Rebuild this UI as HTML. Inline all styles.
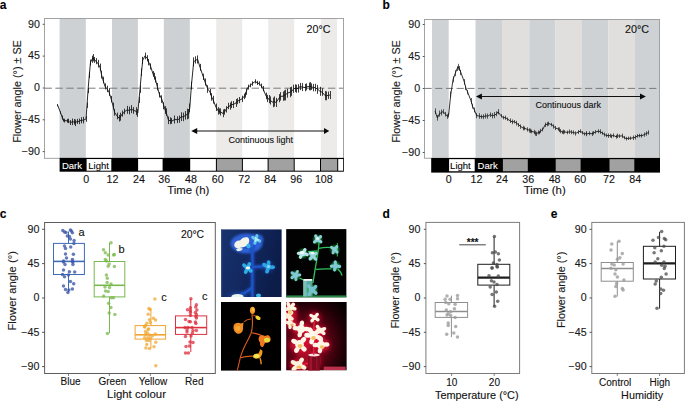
<!DOCTYPE html>
<html><head><meta charset="utf-8"><style>
html,body{margin:0;padding:0;background:#fff;}
body{width:685px;height:401px;overflow:hidden;font-family:"Liberation Sans",sans-serif;}
svg{display:block;}
text{stroke:#111;stroke-width:0.22px;stroke-opacity:0.55;}
text[fill="#fff"]{stroke:#fff;}
</style></head><body>
<svg width="685" height="401" viewBox="0 0 685 401">
<rect width="685" height="401" fill="#fff"/>
<defs>
<linearGradient id="bbg" x1="0" y1="0" x2="1" y2="0.3"><stop offset="0" stop-color="#18336f"/><stop offset="0.5" stop-color="#12285f"/><stop offset="1" stop-color="#0c1d4a"/></linearGradient>
<radialGradient id="rbg" cx="0.35" cy="0.6" r="0.8"><stop offset="0" stop-color="#80061c"/><stop offset="0.45" stop-color="#520312"/><stop offset="0.75" stop-color="#200006"/><stop offset="1" stop-color="#040001"/></radialGradient>
<filter id="g3" x="-50%" y="-50%" width="200%" height="200%"><feGaussianBlur stdDeviation="2.6"/></filter>
<filter id="g2" x="-50%" y="-50%" width="200%" height="200%"><feGaussianBlur stdDeviation="1.3"/></filter>
<filter id="g1" x="-50%" y="-50%" width="200%" height="200%"><feGaussianBlur stdDeviation="0.6"/></filter>
<filter id="g05" x="-50%" y="-50%" width="200%" height="200%"><feGaussianBlur stdDeviation="0.35"/></filter>
<clipPath id="cpb"><rect x="221" y="229.2" width="60.8" height="67.8"/></clipPath>
<clipPath id="cpg"><rect x="286.1" y="229.1" width="60.5" height="68.4"/></clipPath>
<clipPath id="cpo"><rect x="221" y="302" width="60.2" height="68.8"/></clipPath>
<clipPath id="cpr"><rect x="286.1" y="302" width="60.7" height="68.5"/></clipPath>
</defs>
<g clip-path="url(#cpb)">
<rect x="221" y="229.2" width="60.8" height="67.8" fill="url(#bbg)"/>
<rect x="221" y="229.2" width="1.2" height="67.8" fill="#3a5088" opacity="0.8"/>
<g filter="url(#g2)"><ellipse cx="246.5" cy="243.5" rx="16" ry="10" fill="#2f64dc" opacity="0.95"/><ellipse cx="257" cy="239.5" rx="6.5" ry="5.5" fill="#2f64dc" opacity="0.9"/></g><g filter="url(#g3)"><ellipse cx="248" cy="268" rx="5" ry="5" fill="#2a56c4" opacity="0.6"/><ellipse cx="268" cy="267" rx="5" ry="5" fill="#2a56c4" opacity="0.6"/><ellipse cx="238" cy="297" rx="9" ry="4" fill="#2a56c4" opacity="0.8"/></g>
<g stroke="#1f48b0" stroke-width="4.5" fill="none" filter="url(#g2)" opacity="0.8"><path d="M252.4,248 C252.6,258 252.3,275 252.4,298"/><path d="M252.4,267 C257,266.5 262,266.8 266,266"/><path d="M252.4,287 C249,291 245,293 240,295"/></g>
<g stroke="#1c54c8" stroke-width="2.2" fill="none" filter="url(#g05)"><path d="M252.4,248 C252.6,258 252.3,275 252.4,298"/><path d="M252.4,267 C257,266.5 262,266.8 266,266"/><path d="M252.4,287 C249,291 245,293 240,295"/><path d="M252.4,250 C250,248 247,247.5 244,248 M252.4,250 C254,246 256,243 257,241"/></g>
<g filter="url(#g1)">
<path d="M234.2,245 C234.5,241.5 237.5,240 240,240.5 C242,237.5 245.5,236.5 248,237.5 C249.8,239 249.5,242.5 248,244.5 C246.5,246.8 243,247 240.5,247.8 C238,248.5 234.2,248 234.2,245Z" fill="#f4f4e8"/>
<ellipse cx="248.5" cy="246" rx="2" ry="2.5" fill="#38b4e8"/>
<path d="M236,249.5 C237.5,248 240.5,247.6 242.7,248.6 C242.5,250.5 240,251.4 237.5,251.3 Z" fill="#e8f0e4"/>
<g fill="#62c8ec" fill-opacity="1.0"><ellipse cx="259.05" cy="240.77" rx="2.20" ry="1.65" transform="rotate(23 259.05 240.77)"/><ellipse cx="255.05" cy="242.66" rx="2.20" ry="1.65" transform="rotate(107 255.05 242.66)"/><ellipse cx="253.26" cy="237.66" rx="2.20" ry="1.65" transform="rotate(214 253.26 237.66)"/><ellipse cx="256.80" cy="236.30" rx="2.20" ry="1.65" transform="rotate(284 256.80 236.30)"/><circle cx="256" cy="239.5" r="2.40"/></g>
<g fill="#bfe8f4" fill-opacity="1.0"><ellipse cx="258.11" cy="239.86" rx="1.20" ry="0.90" transform="rotate(13 258.11 239.86)"/><ellipse cx="255.51" cy="240.82" rx="1.20" ry="0.90" transform="rotate(127 255.51 240.82)"/><ellipse cx="255.58" cy="238.13" rx="1.20" ry="0.90" transform="rotate(236 255.58 238.13)"/><circle cx="256.5" cy="239.5" r="1.20"/></g>
<g fill="#2fb0e6" fill-opacity="1.0"><ellipse cx="250.43" cy="270.49" rx="2.50" ry="1.88" transform="rotate(40 250.43 270.49)"/><ellipse cx="245.92" cy="271.51" rx="2.50" ry="1.88" transform="rotate(114 245.92 271.51)"/><ellipse cx="244.46" cy="265.64" rx="2.50" ry="1.88" transform="rotate(218 244.46 265.64)"/><ellipse cx="249.15" cy="264.52" rx="2.50" ry="1.88" transform="rotate(295 249.15 264.52)"/><circle cx="247.5" cy="268" r="2.80"/></g>
<ellipse cx="248" cy="268" rx="2.2" ry="1.4" fill="#f4f8f0"/>
<g fill="#2ca6e6" fill-opacity="1.0"><ellipse cx="272.42" cy="267.22" rx="2.60" ry="1.95" transform="rotate(3 272.42 267.22)"/><ellipse cx="267.26" cy="270.99" rx="2.60" ry="1.95" transform="rotate(105 267.26 270.99)"/><ellipse cx="264.67" cy="265.04" rx="2.60" ry="1.95" transform="rotate(208 264.67 265.04)"/><ellipse cx="268.61" cy="262.89" rx="2.60" ry="1.95" transform="rotate(274 268.61 262.89)"/><circle cx="268.3" cy="267" r="3.00"/></g>
<ellipse cx="268.5" cy="266.5" rx="1.6" ry="1.6" fill="#8fd6f2"/>
<ellipse cx="237.5" cy="296.5" rx="6" ry="2.4" fill="#eef6f0"/>
<ellipse cx="258.5" cy="295.5" rx="2.5" ry="2" fill="#3ab8ec"/>
</g></g>
<g clip-path="url(#cpg)">
<rect x="286.1" y="229.1" width="60.5" height="68.4" fill="#010201"/>
<g stroke="#2ec25e" stroke-width="1.3" fill="none" filter="url(#g05)"><path d="M313,283 C314.5,272 316.5,262 318,252 C318.8,247 319.2,244 319,240"/><path d="M318.8,248.3 C323,247.5 327,247.3 331,247.6"/><path d="M315.6,269.4 C321,269 326,269 331.5,268.8"/><path d="M317.6,251 C314,251.2 311,251.4 308,251.6"/><path d="M303.5,279.9 C302,279 300.5,278.5 299.5,278"/><path d="M337.3,243 L337.3,256.5" stroke-width="1"/><path d="M338,269 C340,271 341.5,273 342,275.5" stroke-width="1.4"/></g>
<rect x="286.1" y="295.6" width="60.5" height="2" fill="#1a7a38" filter="url(#g05)"/>
<rect x="286.1" y="295.6" width="60.5" height="0.8" fill="#5ac878" opacity="0.5"/>
<rect x="303.2" y="279.5" width="9.3" height="17" fill="#5aa8a0"/>
<rect x="303.2" y="279.5" width="3.5" height="17" fill="#8cd0c8" opacity="0.6"/>
<rect x="303.5" y="279" width="8.7" height="1.8" fill="#f4fbf6" filter="url(#g05)"/>
<g filter="url(#g2)" opacity="0.9">
<circle cx="317.6" cy="239.5" r="4" fill="#25b04e"/>
<circle cx="303" cy="253.5" r="4.3" fill="#25b04e"/>
<circle cx="313" cy="256" r="4" fill="#25b04e"/>
<circle cx="334.8" cy="249.5" r="4" fill="#25b04e"/>
<circle cx="335.5" cy="266" r="4.3" fill="#25b04e"/>
<circle cx="295.5" cy="275.5" r="4.3" fill="#25b04e"/>
<circle cx="312" cy="290" r="4.8" fill="#25b04e"/>
</g><g filter="url(#g05)">
<g fill="#8cd0d8" fill-opacity="1.0"><ellipse cx="320.48" cy="241.52" rx="2.10" ry="1.58" transform="rotate(36 320.48 241.52)"/><ellipse cx="314.85" cy="241.69" rx="2.10" ry="1.58" transform="rotate(140 314.85 241.69)"/><ellipse cx="315.88" cy="236.27" rx="2.10" ry="1.58" transform="rotate(241 315.88 236.27)"/><ellipse cx="320.28" cy="237.03" rx="2.10" ry="1.58" transform="rotate(318 320.28 237.03)"/><circle cx="317.6" cy="239.4" r="2.60"/></g>
<g fill="#b8e4ec" fill-opacity="1.0"><ellipse cx="306.54" cy="254.41" rx="2.30" ry="1.72" transform="rotate(14 306.54 254.41)"/><ellipse cx="300.67" cy="256.71" rx="2.30" ry="1.72" transform="rotate(124 300.67 256.71)"/><ellipse cx="298.95" cy="253.39" rx="2.30" ry="1.72" transform="rotate(182 298.95 253.39)"/><ellipse cx="304.70" cy="250.15" rx="2.30" ry="1.72" transform="rotate(300 304.70 250.15)"/><circle cx="302.8" cy="253.5" r="2.80"/></g>
<g fill="#9ad6e0" fill-opacity="1.0"><ellipse cx="315.29" cy="258.74" rx="2.20" ry="1.65" transform="rotate(50 315.29 258.74)"/><ellipse cx="310.47" cy="258.52" rx="2.20" ry="1.65" transform="rotate(135 310.47 258.52)"/><ellipse cx="310.44" cy="253.51" rx="2.20" ry="1.65" transform="rotate(224 310.44 253.51)"/><ellipse cx="315.77" cy="253.74" rx="2.20" ry="1.65" transform="rotate(321 315.77 253.74)"/><circle cx="313" cy="256" r="2.60"/></g>
<g fill="#88ccd8" fill-opacity="1.0"><ellipse cx="336.82" cy="251.84" rx="2.00" ry="1.50" transform="rotate(45 336.82 251.84)"/><ellipse cx="333.19" cy="252.53" rx="2.00" ry="1.50" transform="rotate(113 333.19 252.53)"/><ellipse cx="331.87" cy="247.51" rx="2.00" ry="1.50" transform="rotate(217 331.87 247.51)"/><ellipse cx="336.58" cy="246.94" rx="2.00" ry="1.50" transform="rotate(309 336.58 246.94)"/><circle cx="334.5" cy="249.5" r="2.40"/></g>
<g fill="#80c8d4" fill-opacity="1.0"><ellipse cx="339.05" cy="266.44" rx="2.20" ry="1.65" transform="rotate(7 339.05 266.44)"/><ellipse cx="334.69" cy="269.48" rx="2.20" ry="1.65" transform="rotate(103 334.69 269.48)"/><ellipse cx="331.93" cy="266.22" rx="2.20" ry="1.65" transform="rotate(176 331.93 266.22)"/><ellipse cx="335.27" cy="262.43" rx="2.20" ry="1.65" transform="rotate(266 335.27 262.43)"/><circle cx="335.5" cy="266" r="2.60"/></g>
<g fill="#84c8d6" fill-opacity="1.0"><ellipse cx="299.34" cy="275.01" rx="2.00" ry="1.50" transform="rotate(-4 299.34 275.01)"/><ellipse cx="295.91" cy="279.13" rx="2.00" ry="1.50" transform="rotate(84 295.91 279.13)"/><ellipse cx="292.26" cy="277.38" rx="2.00" ry="1.50" transform="rotate(147 292.26 277.38)"/><ellipse cx="292.36" cy="273.07" rx="2.00" ry="1.50" transform="rotate(215 292.36 273.07)"/><ellipse cx="297.23" cy="271.86" rx="2.00" ry="1.50" transform="rotate(297 297.23 271.86)"/><circle cx="295.5" cy="275.3" r="2.80"/></g>
<g fill="#78c0d0" fill-opacity="1.0"><ellipse cx="315.44" cy="292.74" rx="2.40" ry="1.80" transform="rotate(38 315.44 292.74)"/><ellipse cx="309.59" cy="293.68" rx="2.40" ry="1.80" transform="rotate(123 309.59 293.68)"/><ellipse cx="309.19" cy="286.62" rx="2.40" ry="1.80" transform="rotate(230 309.19 286.62)"/><ellipse cx="315.22" cy="287.00" rx="2.40" ry="1.80" transform="rotate(317 315.22 287.00)"/><circle cx="312" cy="290" r="3.20"/></g>
<ellipse cx="302" cy="252.5" rx="2.6" ry="1.6" fill="#f0faf8"/>
<ellipse cx="312.5" cy="253" rx="2.4" ry="1.3" fill="#eaf8f6"/>
<ellipse cx="317.5" cy="238.5" rx="1.6" ry="1.6" fill="#e6f6f4"/>
</g></g>
<g clip-path="url(#cpo)">
<rect x="221" y="302" width="60.2" height="68.8" fill="#010000"/>
<g stroke="#dc5a1c" stroke-width="1.1" fill="none" filter="url(#g05)"><path d="M237.2,371 C238.5,365 239.5,361 240.3,357.7 C243,347 248,341 251,333.5 C253,327 252.8,321 252,314.5"/><path d="M250.8,319 C248,319.2 246,319.8 244,322"/><path d="M251.8,315 C253.5,314.8 255,315.5 256.5,316.5"/><path d="M251.3,332.8 C256,333.5 261,334.5 264,337"/><path d="M240.3,357.8 C244,356.5 249,356 254,356.2"/><path d="M260,358 C260.8,360 261.2,362 261.2,364.3" stroke="#e89020" stroke-width="1.4"/></g>
<g filter="url(#g1)">
<ellipse cx="252.5" cy="310.3" rx="2.6" ry="3.6" fill="#f49a22"/>
<ellipse cx="253" cy="309.5" rx="1.3" ry="2" fill="#fcc040"/>
<ellipse cx="258" cy="317.8" rx="2.8" ry="1.9" transform="rotate(30 258 317.8)" fill="#f0d030"/>
<path d="M233.5,326 C234.5,323 238,322 241,323.5 L243.5,322.5 L243,327 C243.5,330 242,333.5 239,333.8 C236,334 233,331 233.5,326Z" fill="#f08c22"/>
<ellipse cx="237.8" cy="328.5" rx="2.6" ry="2.4" fill="#f8a830"/>
<path d="M259,337 C260,335 263,334.8 265,336 L268,335 C270.5,336.5 271.5,339.5 270,341.5 C268,343 266,342.5 265,343 L263,347 C261,347.5 259.5,345 260,342.5 C258.5,341 258.3,339 259,337Z" fill="#f07a20"/>
<ellipse cx="267" cy="340" rx="3" ry="2.3" fill="#e4e040"/>
<path d="M253,356.5 C253.5,354 256,353 258.5,353.5 L260.5,349 L262.5,351 C262.5,353 262,355 261,356.5 C260,358.5 257,359 255,358.5 C253.5,358 253,357.5 253,356.5Z" fill="#f09a22"/>
<ellipse cx="256.5" cy="356" rx="3" ry="2" fill="#ecea50"/>
</g></g>
<g clip-path="url(#cpr)">
<rect x="286.1" y="302" width="60.7" height="68.5" fill="url(#rbg)"/>
<g filter="url(#g3)">
<ellipse cx="290" cy="315" rx="7" ry="13" fill="#d81030" opacity="1"/>
<ellipse cx="314.5" cy="318" rx="6" ry="6" fill="#d81030" opacity="0.9"/>
<ellipse cx="301" cy="329" rx="9" ry="6" fill="#d81030" opacity="1"/>
<ellipse cx="313.5" cy="336" rx="9" ry="9" fill="#d81030" opacity="1"/>
<ellipse cx="320" cy="331" rx="6" ry="5" fill="#d81030" opacity="0.9"/>
<ellipse cx="299.5" cy="345" rx="10" ry="7" fill="#d81030" opacity="1"/>
<ellipse cx="321" cy="345" rx="9" ry="7" fill="#d81030" opacity="1"/>
<ellipse cx="298.5" cy="365" rx="9" ry="6" fill="#d81030" opacity="1"/>
<ellipse cx="314" cy="361" rx="7" ry="10" fill="#d81030" opacity="0.8"/>
<ellipse cx="303" cy="352" rx="8" ry="6" fill="#d81030" opacity="0.6"/>
</g>
<rect x="308.2" y="355" width="11.8" height="16" fill="#7a0a20"/>
<rect x="309.5" y="356" width="2.5" height="15" fill="#c01838" opacity="0.6"/>
<rect x="316" y="356" width="1.5" height="15" fill="#b01030" opacity="0.6"/>
<ellipse cx="314" cy="355" rx="5.8" ry="1.4" fill="#ffe0e0" filter="url(#g05)"/>
<g stroke="#f02848" stroke-width="1.2" fill="none" filter="url(#g05)"><path d="M313.8,355 C313.5,345 313.3,333 314.3,321.5"/><path d="M313.6,333 C309,331 304,330 300,329"/><path d="M314,330 C316.5,329.5 318.5,330.5 320,331.5"/><path d="M302,366 C304,364.5 306,363.5 308,363"/></g>
<g filter="url(#g05)">
<g fill="#fff4dc" fill-opacity="1.0"><ellipse cx="294.08" cy="308.60" rx="2.60" ry="1.95" transform="rotate(8 294.08 308.60)"/><ellipse cx="289.87" cy="312.12" rx="2.60" ry="1.95" transform="rotate(92 289.87 312.12)"/><ellipse cx="286.08" cy="309.27" rx="2.60" ry="1.95" transform="rotate(162 286.08 309.27)"/><ellipse cx="288.33" cy="304.23" rx="2.60" ry="1.95" transform="rotate(246 288.33 304.23)"/><ellipse cx="292.82" cy="304.99" rx="2.60" ry="1.95" transform="rotate(313 292.82 304.99)"/><circle cx="290" cy="308" r="3.00"/></g>
<g fill="#fff0d4" fill-opacity="1.0"><ellipse cx="291.51" cy="318.40" rx="2.50" ry="1.88" transform="rotate(39 291.51 318.40)"/><ellipse cx="285.09" cy="317.79" rx="2.50" ry="1.88" transform="rotate(152 285.09 317.79)"/><ellipse cx="285.26" cy="313.92" rx="2.50" ry="1.88" transform="rotate(213 285.26 313.92)"/><ellipse cx="291.13" cy="313.19" rx="2.50" ry="1.88" transform="rotate(313 291.13 313.19)"/><circle cx="288.5" cy="316" r="2.80"/></g>
<g fill="#fff2d8" fill-opacity="1.0"><ellipse cx="293.61" cy="324.34" rx="2.40" ry="1.80" transform="rotate(20 293.61 324.34)"/><ellipse cx="290.03" cy="326.85" rx="2.40" ry="1.80" transform="rotate(89 290.03 326.85)"/><ellipse cx="286.22" cy="322.26" rx="2.40" ry="1.80" transform="rotate(191 286.22 322.26)"/><ellipse cx="289.71" cy="319.16" rx="2.40" ry="1.80" transform="rotate(266 289.71 319.16)"/><circle cx="290" cy="323" r="2.80"/></g>
<g fill="#fff6e6" fill-opacity="1.0"><ellipse cx="317.45" cy="319.52" rx="2.30" ry="1.72" transform="rotate(34 317.45 319.52)"/><ellipse cx="312.31" cy="320.33" rx="2.30" ry="1.72" transform="rotate(128 312.31 320.33)"/><ellipse cx="311.44" cy="315.65" rx="2.30" ry="1.72" transform="rotate(211 311.44 315.65)"/><ellipse cx="316.87" cy="314.82" rx="2.30" ry="1.72" transform="rotate(312 316.87 314.82)"/><circle cx="314.5" cy="317.5" r="2.60"/></g>
<g fill="#fff6e8" fill-opacity="1.0"><ellipse cx="306.50" cy="328.94" rx="3.00" ry="2.25" transform="rotate(-1 306.50 328.94)"/><ellipse cx="299.81" cy="334.37" rx="3.00" ry="2.25" transform="rotate(102 299.81 334.37)"/><ellipse cx="295.57" cy="328.14" rx="3.00" ry="2.25" transform="rotate(189 295.57 328.14)"/><ellipse cx="301.81" cy="323.56" rx="3.00" ry="2.25" transform="rotate(278 301.81 323.56)"/><circle cx="301" cy="329" r="4.00"/></g>
<g fill="#fff8ec" fill-opacity="1.0"><ellipse cx="319.13" cy="337.71" rx="3.20" ry="2.40" transform="rotate(21 319.13 337.71)"/><ellipse cx="311.77" cy="341.30" rx="3.20" ry="2.40" transform="rotate(107 311.77 341.30)"/><ellipse cx="307.45" cy="335.27" rx="3.20" ry="2.40" transform="rotate(182 307.45 335.27)"/><ellipse cx="310.30" cy="330.37" rx="3.20" ry="2.40" transform="rotate(238 310.30 330.37)"/><ellipse cx="317.89" cy="331.34" rx="3.20" ry="2.40" transform="rotate(317 317.89 331.34)"/><circle cx="313.5" cy="335.5" r="4.40"/></g>
<g fill="#fff2e0" fill-opacity="1.0"><ellipse cx="323.32" cy="332.95" rx="2.50" ry="1.88" transform="rotate(36 323.32 332.95)"/><ellipse cx="316.48" cy="332.66" rx="2.50" ry="1.88" transform="rotate(148 316.48 332.66)"/><ellipse cx="317.73" cy="327.06" rx="2.50" ry="1.88" transform="rotate(237 317.73 327.06)"/><ellipse cx="323.84" cy="328.99" rx="2.50" ry="1.88" transform="rotate(339 323.84 328.99)"/><circle cx="320" cy="330.5" r="3.00"/></g>
<g fill="#fff6ea" fill-opacity="1.0"><ellipse cx="303.74" cy="348.81" rx="3.20" ry="2.40" transform="rotate(45 303.74 348.81)"/><ellipse cx="296.76" cy="349.89" rx="3.20" ry="2.40" transform="rotate(117 296.76 349.89)"/><ellipse cx="294.28" cy="341.43" rx="3.20" ry="2.40" transform="rotate(210 294.28 341.43)"/><ellipse cx="303.40" cy="339.88" rx="3.20" ry="2.40" transform="rotate(310 303.40 339.88)"/><circle cx="299.5" cy="344.5" r="4.40"/></g>
<g fill="#fff4e6" fill-opacity="1.0"><ellipse cx="326.48" cy="344.53" rx="3.00" ry="2.25" transform="rotate(-5 326.48 344.53)"/><ellipse cx="320.03" cy="350.41" rx="3.00" ry="2.25" transform="rotate(100 320.03 350.41)"/><ellipse cx="315.50" cy="345.00" rx="3.00" ry="2.25" transform="rotate(180 315.50 345.00)"/><ellipse cx="320.84" cy="339.50" rx="3.00" ry="2.25" transform="rotate(268 320.84 339.50)"/><circle cx="321" cy="345" r="4.00"/></g>
<g fill="#fff2dc" fill-opacity="1.0"><ellipse cx="303.49" cy="367.32" rx="3.00" ry="2.25" transform="rotate(25 303.49 367.32)"/><ellipse cx="294.33" cy="368.58" rx="3.00" ry="2.25" transform="rotate(139 294.33 368.58)"/><ellipse cx="293.62" cy="362.47" rx="3.00" ry="2.25" transform="rotate(207 293.62 362.47)"/><ellipse cx="301.37" cy="360.31" rx="3.00" ry="2.25" transform="rotate(301 301.37 360.31)"/><circle cx="298.5" cy="365" r="4.00"/></g>
<ellipse cx="300" cy="346" rx="2.5" ry="2" fill="#f4c060"/><ellipse cx="313.5" cy="338" rx="2.3" ry="2" fill="#f4c060"/><ellipse cx="322" cy="347" rx="2.2" ry="1.8" fill="#f4c060"/><ellipse cx="299" cy="367" rx="2.6" ry="1.6" fill="#f0c060"/><ellipse cx="290" cy="312" rx="1.8" ry="2.5" fill="#f4c878"/><ellipse cx="292" cy="325" rx="1.5" ry="1.5" fill="#f0b060"/>
</g>
<rect x="323.7" y="366.6" width="22" height="3.4" fill="#d83858" opacity="0.85" filter="url(#g05)"/>
</g>
<text x="-0.3" y="8.8" font-size="12" font-weight="bold" font-family="Liberation Sans, sans-serif" fill="#000">a</text>
<rect x="59.6" y="18.5" width="26.199999999999996" height="139.8" fill="#cdd1d3"/>
<rect x="112" y="18.5" width="25.900000000000006" height="139.8" fill="#cdd1d3"/>
<rect x="163.8" y="18.5" width="26.0" height="139.8" fill="#cdd1d3"/>
<rect x="216.2" y="18.5" width="26.0" height="139.8" fill="#ecebe9"/>
<rect x="268.2" y="18.5" width="26.0" height="139.8" fill="#ecebe9"/>
<rect x="320.8" y="18.5" width="16.19999999999999" height="139.8" fill="#ecebe9"/>
<line x1="44.5" y1="88.2" x2="343.5" y2="88.2" stroke="#7a7a7a" stroke-width="1" stroke-dasharray="7.4,3.5"/>
<rect x="44.5" y="18.5" width="299.0" height="139.8" fill="none" stroke="#9a9a9a" stroke-width="0.9"/>
<line x1="42.7" y1="24.3" x2="44.5" y2="24.3" stroke="#444" stroke-width="0.9"/>
<text transform="translate(40.0,27.5) scale(1.07,1)" text-anchor="end" font-size="10" font-family="Liberation Sans, sans-serif" fill="#1a1a1a">90</text>
<line x1="42.7" y1="56.1" x2="44.5" y2="56.1" stroke="#444" stroke-width="0.9"/>
<text transform="translate(40.0,59.300000000000004) scale(1.07,1)" text-anchor="end" font-size="10" font-family="Liberation Sans, sans-serif" fill="#1a1a1a">45</text>
<line x1="42.7" y1="88.0" x2="44.5" y2="88.0" stroke="#444" stroke-width="0.9"/>
<text transform="translate(40.0,91.2) scale(1.07,1)" text-anchor="end" font-size="10" font-family="Liberation Sans, sans-serif" fill="#1a1a1a">0</text>
<line x1="42.7" y1="119.8" x2="44.5" y2="119.8" stroke="#444" stroke-width="0.9"/>
<text transform="translate(40.0,123.0) scale(1.07,1)" text-anchor="end" font-size="10" font-family="Liberation Sans, sans-serif" fill="#1a1a1a">−45</text>
<line x1="42.7" y1="151.6" x2="44.5" y2="151.6" stroke="#444" stroke-width="0.9"/>
<text transform="translate(40.0,154.79999999999998) scale(1.07,1)" text-anchor="end" font-size="10" font-family="Liberation Sans, sans-serif" fill="#1a1a1a">−90</text>
<text transform="translate(20.5,91.5) rotate(-90)" text-anchor="middle" font-size="10.8" font-family="Liberation Sans, sans-serif" fill="#1a1a1a">Flower angle (°) ± SE</text>
<path d="M57.5,104.0V106.3M60.5,111.4V113.8M62.5,115.5V118.1M63.5,118.5V121.6M64.5,118.7V122.5M67.5,118.9V122.7M68.5,118.7V123.2M70.5,120.1V125.0M72.5,118.6V125.1M74.5,119.0V124.7M75.5,119.5V126.1M77.5,118.9V124.0M79.5,118.6V124.1M81.5,117.2V123.3M83.5,116.8V123.4M86.5,116.1V121.8M87.5,102.5V107.9M88.5,88.0V93.2M89.5,71.9V78.1M90.5,59.6V65.2M92.5,55.7V62.8M93.5,54.1V61.3M94.5,57.0V62.8M96.5,58.1V64.2M98.5,59.9V67.5M100.5,63.6V70.9M101.5,70.7V78.5M103.5,76.7V83.3M105.5,83.3V89.4M107.5,85.7V92.1M109.5,88.2V95.9M111.5,95.9V102.3M113.5,102.6V109.1M114.5,109.0V115.7M117.5,112.6V119.3M119.5,114.9V121.5M120.5,112.7V120.7M122.5,110.5V116.6M124.5,108.7V114.4M127.5,105.9V113.8M129.5,106.6V114.4M131.5,105.1V113.1M133.5,107.1V113.8M136.5,107.2V115.1M137.5,109.1V116.9M139.5,96.8V102.9M140.5,85.5V92.8M141.5,68.4V75.9M142.5,56.8V63.9M145.5,52.6V59.3M147.5,55.2V61.4M148.5,59.0V65.3M150.5,63.4V69.4M153.5,71.1V76.7M154.5,72.8V79.7M155.5,76.4V82.5M157.5,83.0V90.4M159.5,92.0V97.5M161.5,95.3V102.8M163.5,102.2V109.3M165.5,106.2V113.9M166.5,108.3V115.8M168.5,116.5V124.1M170.5,117.3V124.2M171.5,118.1V123.8M174.5,115.5V123.5M177.5,116.3V123.1M179.5,115.5V122.8M181.5,112.3V121.0M183.5,112.6V121.2M185.5,111.0V119.6M187.5,108.7V119.3M188.5,109.0V118.7M189.5,103.5V112.1M191.5,81.7V89.5M193.5,57.3V66.2M195.5,56.3V63.6M197.5,55.4V63.5M200.5,63.9V70.8M203.5,73.7V80.0M205.5,78.5V85.6M207.5,85.2V92.9M210.5,89.0V95.0M211.5,93.2V100.7M213.5,95.8V103.6M216.5,103.5V110.9M218.5,107.1V114.6M219.5,108.4V113.9M220.5,108.4V115.5M223.5,109.5V117.2M224.5,108.9V114.7M226.5,106.2V112.5M228.5,102.8V109.2M230.5,102.5V109.7M231.5,101.2V108.1M233.5,101.0V108.1M236.5,99.0V106.9M237.5,98.2V104.2M239.5,97.0V103.2M242.5,95.7V102.1M244.5,93.6V99.2M245.5,92.5V97.6M246.5,88.6V94.8M248.5,84.6V89.6M250.5,83.5V87.3M252.5,81.3V85.8M255.5,79.3V83.5M257.5,80.8V85.0M259.5,81.4V85.6M261.5,83.6V88.3M263.5,86.0V91.3M266.5,92.6V99.2M267.5,94.9V102.1M269.5,95.0V103.2M270.5,96.4V104.5M273.5,97.6V107.2M274.5,96.4V106.6M276.5,97.9V107.0M279.5,94.1V102.3M280.5,92.1V100.6M283.5,91.5V100.8M284.5,90.4V100.5M285.5,89.7V100.4M287.5,88.7V97.7M290.5,87.3V97.2M291.5,86.7V95.8M293.5,84.7V92.9M295.5,84.3V92.1M296.5,84.7V92.8M298.5,84.2V92.5M300.5,82.9V90.1M302.5,83.1V91.1M305.5,83.9V91.3M306.5,83.4V90.3M309.5,82.6V90.3M310.5,82.1V90.3M311.5,83.4V89.9M313.5,83.9V91.3M315.5,83.8V91.3M317.5,84.9V93.8M320.5,86.8V95.8M322.5,88.3V95.8M325.5,91.0V100.2M326.5,91.4V100.3M328.5,91.5V98.9M330.5,91.0V99.1" stroke="#1a1a1a" stroke-width="0.85" fill="none"/>
<path d="M57.7,105.2 L60.5,112.6 L62.0,116.8 L63.0,120.1 L64.2,120.6 L67.0,120.8 L68.5,121.0 L70.0,122.5 L72.9,121.8 L74.0,121.9 L75.0,122.8 L77.0,121.5 L79.4,121.3 L81.0,120.3 L83.7,120.1 L86.0,118.9 L87.0,105.2 L88.0,90.6 L89.3,75.0 L90.5,62.4 L92.0,59.3 L93.0,57.7 L94.5,59.9 L96.0,61.1 L98.0,63.7 L100.0,67.2 L101.5,74.6 L103.0,80.0 L105.0,86.4 L107.0,88.9 L109.0,92.0 L111.2,99.1 L113.0,105.8 L114.6,112.4 L117.0,115.9 L119.1,118.2 L120.5,116.7 L122.5,113.6 L124.9,111.6 L127.0,109.8 L129.2,110.5 L131.5,109.1 L133.5,110.4 L136.0,111.2 L137.8,113.0 L139.0,99.8 L140.0,89.2 L141.5,72.1 L142.7,60.3 L145.0,55.9 L147.2,58.3 L148.7,62.2 L150.6,66.4 L153.0,73.9 L154.0,76.3 L155.5,79.5 L157.3,86.7 L159.5,94.7 L161.7,99.0 L163.9,105.8 L165.1,110.0 L166.1,112.1 L168.5,120.3 L170.4,120.7 L171.9,121.0 L174.7,119.5 L177.5,119.7 L179.1,119.1 L181.2,116.6 L183.1,116.9 L185.6,115.3 L187.7,114.0 L188.7,113.9 L189.8,107.8 L191.4,85.6 L193.7,61.8 L195.9,60.0 L197.7,59.5 L200.0,67.3 L203.3,76.8 L205.1,82.1 L207.8,89.1 L210.0,92.0 L211.6,96.9 L213.0,99.7 L216.0,107.2 L218.1,110.8 L219.0,111.2 L220.2,111.9 L223.0,113.4 L224.6,111.8 L226.0,109.3 L228.9,106.0 L230.0,106.1 L231.1,104.6 L233.2,104.5 L236.0,102.9 L237.6,101.2 L239.7,100.1 L242.0,98.9 L244.1,96.4 L245.0,95.1 L246.2,91.7 L248.0,87.1 L250.6,85.4 L252.0,83.5 L255.5,81.4 L257.1,82.9 L259.0,83.5 L261.4,86.0 L263.0,88.7 L266.0,95.9 L267.9,98.5 L269.0,99.1 L270.1,100.4 L273.0,102.4 L274.4,101.5 L276.0,102.5 L279.0,98.2 L280.9,96.3 L283.1,96.2 L284.0,95.4 L285.2,95.0 L287.4,93.2 L290.0,92.2 L291.7,91.2 L293.9,88.8 L295.0,88.2 L296.1,88.8 L298.2,88.3 L300.0,86.5 L302.6,87.1 L305.0,87.6 L306.9,86.8 L309.1,86.5 L310.0,86.2 L311.2,86.6 L313.4,87.6 L315.0,87.6 L317.7,89.3 L320.0,91.3 L322.1,92.1 L325.0,95.6 L326.4,95.9 L328.6,95.2 L330.0,95.1" stroke="#111" stroke-width="0.9" fill="none" stroke-linejoin="round"/>
<text transform="translate(306.6,33) scale(1.07,1)" font-size="10" font-family="Liberation Sans, sans-serif" fill="#111">20°C</text>
<line x1="195" y1="131.0" x2="325" y2="131.0" stroke="#111" stroke-width="1"/>
<path d="M191.2,131.0 L197.2,127.9 L197.2,134.1Z M329.3,131.0 L324.0,127.9 L324.0,134.1Z" fill="#0a0a0a"/>
<text x="260.8" y="143" text-anchor="middle" font-size="9" font-family="Liberation Sans, sans-serif" fill="#111">Continuous light</text>
<rect x="59.6" y="157.9" width="284.29999999999995" height="13.799999999999983" fill="#000"/>
<rect x="86.6" y="159.05" width="24.700000000000003" height="11.649999999999983" fill="#fff"/>
<rect x="138.1" y="159.05" width="24.5" height="11.649999999999983" fill="#fff"/>
<rect x="190.2" y="159.05" width="25.700000000000017" height="11.649999999999983" fill="#fff"/>
<rect x="216.9" y="159.05" width="25.0" height="11.649999999999983" fill="#a1a1a1"/>
<rect x="242.9" y="159.05" width="24.700000000000017" height="11.649999999999983" fill="#fff"/>
<rect x="268.6" y="159.05" width="25.099999999999966" height="11.649999999999983" fill="#a1a1a1"/>
<rect x="294.7" y="159.05" width="25.30000000000001" height="11.649999999999983" fill="#fff"/>
<rect x="321.0" y="159.05" width="16.19999999999999" height="11.649999999999983" fill="#a1a1a1"/>
<rect x="338.2" y="159.05" width="4.900000000000034" height="11.649999999999983" fill="#fff"/>
<text x="61.9" y="168.5" font-size="9.5" font-family="Liberation Sans, sans-serif" fill="#fff">Dark</text>
<text x="88.3" y="168.5" font-size="9.5" font-family="Liberation Sans, sans-serif" fill="#000">Light</text>
<text transform="translate(86.2,182.6) scale(1.07,1)" text-anchor="middle" font-size="10" font-family="Liberation Sans, sans-serif" fill="#111">0</text>
<text transform="translate(112.5,182.6) scale(1.07,1)" text-anchor="middle" font-size="10" font-family="Liberation Sans, sans-serif" fill="#111">12</text>
<text transform="translate(138.9,182.6) scale(1.07,1)" text-anchor="middle" font-size="10" font-family="Liberation Sans, sans-serif" fill="#111">24</text>
<text transform="translate(164.3,182.6) scale(1.07,1)" text-anchor="middle" font-size="10" font-family="Liberation Sans, sans-serif" fill="#111">36</text>
<text transform="translate(191.0,182.6) scale(1.07,1)" text-anchor="middle" font-size="10" font-family="Liberation Sans, sans-serif" fill="#111">48</text>
<text transform="translate(217.8,182.6) scale(1.07,1)" text-anchor="middle" font-size="10" font-family="Liberation Sans, sans-serif" fill="#111">60</text>
<text transform="translate(244.2,182.6) scale(1.07,1)" text-anchor="middle" font-size="10" font-family="Liberation Sans, sans-serif" fill="#111">72</text>
<text transform="translate(270.3,182.6) scale(1.07,1)" text-anchor="middle" font-size="10" font-family="Liberation Sans, sans-serif" fill="#111">84</text>
<text transform="translate(296.2,182.6) scale(1.07,1)" text-anchor="middle" font-size="10" font-family="Liberation Sans, sans-serif" fill="#111">96</text>
<text transform="translate(323.8,182.6) scale(1.07,1)" text-anchor="middle" font-size="10" font-family="Liberation Sans, sans-serif" fill="#111">108</text>
<text x="188.3" y="194.2" text-anchor="middle" font-size="11.4" font-family="Liberation Sans, sans-serif" fill="#111">Time (h)</text>
<text x="382.5" y="9.2" font-size="12" font-weight="bold" font-family="Liberation Sans, sans-serif" fill="#000">b</text>
<rect x="432" y="19.5" width="16.69999999999999" height="138.7" fill="#ced2d4"/>
<rect x="475.5" y="19.5" width="26.5" height="138.7" fill="#ced2d4"/>
<rect x="529.2" y="19.5" width="26.299999999999955" height="138.7" fill="#ced2d4"/>
<rect x="582" y="19.5" width="26.200000000000045" height="138.7" fill="#ced2d4"/>
<rect x="635" y="19.5" width="24.5" height="138.7" fill="#ced2d4"/>
<rect x="502" y="19.5" width="27.200000000000045" height="138.7" fill="#e0dfdd"/>
<rect x="555.5" y="19.5" width="26.5" height="138.7" fill="#e0dfdd"/>
<rect x="608.2" y="19.5" width="26.799999999999955" height="138.7" fill="#e0dfdd"/>
<line x1="424.5" y1="88.4" x2="659.5" y2="88.4" stroke="#7a7a7a" stroke-width="1" stroke-dasharray="7.2,3.5"/>
<rect x="424.5" y="19.5" width="235.0" height="138.7" fill="none" stroke="#9a9a9a" stroke-width="0.9"/>
<line x1="422.7" y1="24.5" x2="424.5" y2="24.5" stroke="#444" stroke-width="0.9"/>
<text transform="translate(420.2,27.7) scale(1.07,1)" text-anchor="end" font-size="10" font-family="Liberation Sans, sans-serif" fill="#1a1a1a">90</text>
<line x1="422.7" y1="56.5" x2="424.5" y2="56.5" stroke="#444" stroke-width="0.9"/>
<text transform="translate(420.2,59.7) scale(1.07,1)" text-anchor="end" font-size="10" font-family="Liberation Sans, sans-serif" fill="#1a1a1a">45</text>
<line x1="422.7" y1="88.5" x2="424.5" y2="88.5" stroke="#444" stroke-width="0.9"/>
<text transform="translate(420.2,91.7) scale(1.07,1)" text-anchor="end" font-size="10" font-family="Liberation Sans, sans-serif" fill="#1a1a1a">0</text>
<line x1="422.7" y1="120.5" x2="424.5" y2="120.5" stroke="#444" stroke-width="0.9"/>
<text transform="translate(420.2,123.7) scale(1.07,1)" text-anchor="end" font-size="10" font-family="Liberation Sans, sans-serif" fill="#1a1a1a">−45</text>
<line x1="422.7" y1="152.5" x2="424.5" y2="152.5" stroke="#444" stroke-width="0.9"/>
<text transform="translate(420.2,155.7) scale(1.07,1)" text-anchor="end" font-size="10" font-family="Liberation Sans, sans-serif" fill="#1a1a1a">−90</text>
<text transform="translate(399.5,91.5) rotate(-90)" text-anchor="middle" font-size="10.8" font-family="Liberation Sans, sans-serif" fill="#1a1a1a">Flower angle (°) ± SE</text>
<path d="M435.5,108.4V114.0M437.5,115.1V120.7M439.5,110.5V116.6M441.5,109.6V115.5M443.5,109.2V113.9M445.5,112.0V116.5M447.5,114.2V118.9M448.5,112.9V117.5M450.5,91.5V97.1M453.5,76.4V82.3M455.5,70.2V76.2M457.5,66.3V71.0M458.5,63.8V69.7M459.5,66.0V70.8M460.5,70.0V75.1M464.5,79.1V84.8M465.5,85.8V90.1M467.5,90.0V94.4M471.5,98.0V103.9M472.5,103.8V108.6M474.5,107.5V112.4M476.5,113.0V118.3M479.5,113.2V118.8M481.5,114.7V118.8M483.5,114.3V119.1M485.5,113.4V118.5M487.5,113.5V118.7M490.5,112.4V117.0M492.5,113.0V118.4M494.5,112.0V118.2M496.5,111.3V116.3M498.5,109.1V114.4M501.5,114.1V117.5M503.5,115.8V119.4M505.5,115.6V119.8M507.5,117.5V120.9M510.5,118.4V123.0M512.5,119.5V124.2M514.5,120.0V123.4M516.5,120.8V125.5M518.5,123.1V126.9M520.5,124.4V128.9M523.5,125.8V130.3M524.5,126.6V130.3M527.5,127.3V131.6M529.5,128.3V132.6M530.5,128.6V133.1M531.5,129.6V133.3M534.5,129.8V134.2M535.5,130.9V135.7M536.5,131.7V136.0M538.5,130.4V134.4M539.5,130.9V134.3M540.5,128.8V132.8M542.5,127.6V131.4M545.5,122.6V127.0M547.5,122.1V126.3M548.5,121.6V125.7M551.5,122.9V126.4M553.5,124.3V128.6M555.5,125.9V130.1M558.5,127.3V130.8M559.5,127.4V132.1M560.5,129.1V133.3M562.5,130.5V133.9M563.5,129.6V134.3M564.5,130.2V133.6M567.5,130.6V134.3M569.5,129.5V133.9M571.5,130.1V134.2M573.5,130.4V134.5M575.5,131.3V135.6M578.5,130.1V134.1M580.5,129.3V133.0M582.5,131.0V134.5M584.5,132.3V135.6M586.5,131.2V135.5M586.5,131.7V136.2M589.5,131.3V135.3M592.5,131.6V136.0M593.5,131.1V134.8M595.5,130.1V133.7M598.5,129.3V133.2M600.5,129.3V133.9M602.5,131.5V134.8M604.5,132.5V136.5M606.5,133.6V137.2M608.5,133.5V137.9M610.5,133.7V137.5M611.5,134.5V138.2M613.5,133.4V137.3M616.5,134.7V138.7M617.5,133.6V138.1M619.5,134.2V137.9M622.5,133.6V138.1M624.5,135.9V139.3M626.5,136.9V140.5M628.5,136.6V140.0M630.5,136.5V139.9M633.5,135.6V140.0M635.5,135.1V139.5M637.5,134.1V137.6M639.5,133.8V137.3M641.5,133.8V137.6M644.5,132.5V136.8M646.5,131.3V135.8M648.5,130.3V134.7" stroke="#2a2a2a" stroke-width="0.75" fill="none"/>
<path d="M435.1,111.2 L437.4,117.9 L439.6,113.6 L441.7,112.6 L443.0,111.6 L445.7,114.3 L447.5,116.6 L448.6,115.2 L450.8,94.3 L453.1,79.3 L455.3,73.2 L457.1,68.7 L458.2,66.7 L459.3,68.4 L460.9,72.5 L464.3,82.0 L465.9,88.0 L467.7,92.2 L471.0,100.9 L472.5,106.2 L474.4,110.0 L476.7,115.7 L479.1,116.0 L481.1,116.7 L483.5,116.7 L485.7,115.9 L487.9,116.1 L490.1,114.7 L492.3,115.7 L494.6,115.1 L496.7,113.8 L498.0,111.8 L501.0,115.8 L503.3,117.6 L505.5,117.7 L507.7,119.2 L510.0,120.7 L512.1,121.8 L514.4,121.7 L516.5,123.1 L518.9,125.0 L520.9,126.7 L523.1,128.0 L524.9,128.4 L527.5,129.5 L529.7,130.4 L530.9,130.9 L531.9,131.5 L534.1,132.0 L535.4,133.3 L536.3,133.8 L538.5,132.4 L539.8,132.6 L540.7,130.8 L542.8,129.5 L545.1,124.8 L547.3,124.2 L548.8,123.6 L551.8,124.7 L553.9,126.5 L555.5,128.0 L558.3,129.0 L559.3,129.8 L560.5,131.2 L562.7,132.2 L563.8,131.9 L564.9,131.9 L567.1,132.4 L569.7,131.7 L571.5,132.2 L573.7,132.5 L575.7,133.4 L578.1,132.1 L580.2,131.2 L582.5,132.7 L584.7,134.0 L586.0,133.4 L586.9,134.0 L589.1,133.3 L592.0,133.8 L593.5,133.0 L595.7,131.9 L598.0,131.2 L600.1,131.6 L602.5,133.2 L604.5,134.5 L606.2,135.4 L608.9,135.7 L610.0,135.6 L611.1,136.3 L613.3,135.3 L616.0,136.7 L617.7,135.9 L619.9,136.1 L622.0,135.8 L624.3,137.6 L626.4,138.7 L628.7,138.3 L630.9,138.2 L633.1,137.8 L635.4,137.3 L637.5,135.8 L639.9,135.6 L641.9,135.7 L644.4,134.6 L646.3,133.5 L648.9,132.5" stroke="#111" stroke-width="0.85" fill="none" stroke-linejoin="round"/>
<text transform="translate(625,33) scale(1.08,1)" font-size="10" font-family="Liberation Sans, sans-serif" fill="#111">20°C</text>
<line x1="480" y1="96.5" x2="642" y2="96.5" stroke="#111" stroke-width="1"/>
<path d="M476.0,96.5 L481.9,93.4 L481.9,99.6Z M645.9,96.5 L640.0,93.4 L640.0,99.6Z" fill="#0a0a0a"/>
<text x="535.4" y="107.6" font-size="9" font-family="Liberation Sans, sans-serif" fill="#111">Continuous dark</text>
<rect x="431.2" y="158.0" width="228.8" height="14.599999999999994" fill="#000"/>
<rect x="449.1" y="159.15" width="25.599999999999966" height="12.099999999999994" fill="#fff"/>
<rect x="502.9" y="159.15" width="24.899999999999977" height="12.099999999999994" fill="#a1a1a1"/>
<rect x="555.7" y="159.15" width="24.899999999999977" height="12.099999999999994" fill="#a1a1a1"/>
<rect x="609.5" y="159.15" width="24.799999999999955" height="12.099999999999994" fill="#a1a1a1"/>
<text x="450.1" y="169" font-size="9.5" font-family="Liberation Sans, sans-serif" fill="#000">Light</text>
<text x="477.6" y="169" font-size="9.5" font-family="Liberation Sans, sans-serif" fill="#fff">Dark</text>
<text transform="translate(448.8,182.8) scale(1.07,1)" text-anchor="middle" font-size="10" font-family="Liberation Sans, sans-serif" fill="#111">0</text>
<text transform="translate(476.5,182.8) scale(1.07,1)" text-anchor="middle" font-size="10" font-family="Liberation Sans, sans-serif" fill="#111">12</text>
<text transform="translate(502.0,182.8) scale(1.07,1)" text-anchor="middle" font-size="10" font-family="Liberation Sans, sans-serif" fill="#111">24</text>
<text transform="translate(528.3,182.8) scale(1.07,1)" text-anchor="middle" font-size="10" font-family="Liberation Sans, sans-serif" fill="#111">36</text>
<text transform="translate(554.6,182.8) scale(1.07,1)" text-anchor="middle" font-size="10" font-family="Liberation Sans, sans-serif" fill="#111">48</text>
<text transform="translate(580.2,182.8) scale(1.07,1)" text-anchor="middle" font-size="10" font-family="Liberation Sans, sans-serif" fill="#111">60</text>
<text transform="translate(608.9,182.8) scale(1.07,1)" text-anchor="middle" font-size="10" font-family="Liberation Sans, sans-serif" fill="#111">72</text>
<text transform="translate(635.3,182.8) scale(1.07,1)" text-anchor="middle" font-size="10" font-family="Liberation Sans, sans-serif" fill="#111">84</text>
<text x="544.7" y="194.4" text-anchor="middle" font-size="11.4" font-family="Liberation Sans, sans-serif" fill="#111">Time (h)</text>
<text x="-0.3" y="218" font-size="12" font-weight="bold" font-family="Liberation Sans, sans-serif" fill="#000">c</text>
<rect x="44.6" y="222.5" width="170.70000000000002" height="151.0" fill="none" stroke="#5e5e5e" stroke-width="1.0"/>
<line x1="42.0" y1="229.3" x2="44.6" y2="229.3" stroke="#444" stroke-width="0.9"/>
<text transform="translate(39.5,232.70000000000002) scale(1.07,1)" text-anchor="end" font-size="10" font-family="Liberation Sans, sans-serif" fill="#1a1a1a">90</text>
<line x1="42.0" y1="263.6" x2="44.6" y2="263.6" stroke="#444" stroke-width="0.9"/>
<text transform="translate(39.5,267.0) scale(1.07,1)" text-anchor="end" font-size="10" font-family="Liberation Sans, sans-serif" fill="#1a1a1a">45</text>
<line x1="42.0" y1="298.0" x2="44.6" y2="298.0" stroke="#444" stroke-width="0.9"/>
<text transform="translate(39.5,301.4) scale(1.07,1)" text-anchor="end" font-size="10" font-family="Liberation Sans, sans-serif" fill="#1a1a1a">0</text>
<line x1="42.0" y1="332.3" x2="44.6" y2="332.3" stroke="#444" stroke-width="0.9"/>
<text transform="translate(39.5,335.7) scale(1.07,1)" text-anchor="end" font-size="10" font-family="Liberation Sans, sans-serif" fill="#1a1a1a">−45</text>
<line x1="42.0" y1="366.6" x2="44.6" y2="366.6" stroke="#444" stroke-width="0.9"/>
<text transform="translate(39.5,370.0) scale(1.07,1)" text-anchor="end" font-size="10" font-family="Liberation Sans, sans-serif" fill="#1a1a1a">−90</text>
<text transform="translate(15.5,290.8) rotate(-90)" text-anchor="middle" font-size="11.25" font-family="Liberation Sans, sans-serif" fill="#1a1a1a">Flower angle (°)</text>
<text transform="translate(180.9,237.8) scale(1.04,1)" font-size="10" font-family="Liberation Sans, sans-serif" fill="#111">20°C</text>
<line x1="68.5" y1="373.5" x2="68.5" y2="375.9" stroke="#555" stroke-width="0.8"/>
<line x1="109.4" y1="373.5" x2="109.4" y2="375.9" stroke="#555" stroke-width="0.8"/>
<line x1="150.3" y1="373.5" x2="150.3" y2="375.9" stroke="#555" stroke-width="0.8"/>
<line x1="191.0" y1="373.5" x2="191.0" y2="375.9" stroke="#555" stroke-width="0.8"/>
<text x="70.6" y="384.8" text-anchor="middle" font-size="10" font-family="Liberation Sans, sans-serif" fill="#111">Blue</text>
<text x="112.4" y="384.8" text-anchor="middle" font-size="10" font-family="Liberation Sans, sans-serif" fill="#111">Green</text>
<text x="153" y="384.8" text-anchor="middle" font-size="10" font-family="Liberation Sans, sans-serif" fill="#111">Yellow</text>
<text x="194.3" y="384.8" text-anchor="middle" font-size="10" font-family="Liberation Sans, sans-serif" fill="#111">Red</text>
<text x="136.5" y="398.1" text-anchor="middle" font-size="11.4" font-family="Liberation Sans, sans-serif" fill="#111">Light colour</text>
<line x1="68.5" y1="231.5" x2="68.5" y2="243.4" stroke="#3d6cb8" stroke-width="1.0"/>
<line x1="68.5" y1="274.5" x2="68.5" y2="292.2" stroke="#3d6cb8" stroke-width="1.0"/>
<rect x="53.5" y="243.4" width="30.900000000000006" height="31.099999999999994" fill="none" stroke="#3d6cb8" stroke-width="1.0"/>
<line x1="53.5" y1="261.4" x2="84.4" y2="261.4" stroke="#3d6cb8" stroke-width="1.6"/>
<g fill="#3f5aa8" fill-opacity="0.8"><circle cx="62.8" cy="230.5" r="1.75"/><circle cx="64.5" cy="232" r="1.75"/><circle cx="66" cy="232.5" r="1.75"/><circle cx="70.4" cy="230" r="1.75"/><circle cx="71.4" cy="231" r="1.75"/><circle cx="72.4" cy="232.8" r="1.75"/><circle cx="67.4" cy="236" r="1.75"/><circle cx="69.4" cy="236.5" r="1.75"/><circle cx="70.4" cy="239" r="1.75"/><circle cx="74.1" cy="240.5" r="1.75"/><circle cx="73.9" cy="243.4" r="1.75"/><circle cx="64.5" cy="246" r="1.75"/><circle cx="65.5" cy="248.4" r="1.75"/><circle cx="70.7" cy="247" r="1.75"/><circle cx="65.5" cy="253.9" r="1.75"/><circle cx="73.4" cy="254.2" r="1.75"/><circle cx="66.5" cy="257.9" r="1.75"/><circle cx="72.4" cy="259.4" r="1.75"/><circle cx="63.5" cy="260.9" r="1.75"/><circle cx="72.4" cy="261.4" r="1.75"/><circle cx="63.5" cy="262" r="1.75"/><circle cx="65" cy="264.5" r="1.75"/><circle cx="72.9" cy="262" r="1.75"/><circle cx="72.9" cy="264.5" r="1.75"/><circle cx="63.5" cy="270" r="1.75"/><circle cx="69.4" cy="271.8" r="1.75"/><circle cx="74.7" cy="272" r="1.75"/><circle cx="62.5" cy="274.5" r="1.75"/><circle cx="64.5" cy="276.7" r="1.75"/><circle cx="68.4" cy="275" r="1.75"/><circle cx="70.4" cy="281.4" r="1.75"/><circle cx="73.7" cy="283.7" r="1.75"/><circle cx="63.5" cy="286.1" r="1.75"/><circle cx="65.5" cy="289.4" r="1.75"/><circle cx="68.9" cy="289.9" r="1.75"/><circle cx="72.4" cy="288.9" r="1.75"/><circle cx="67.9" cy="292.4" r="1.75"/></g>
<line x1="109.5" y1="242.9" x2="109.5" y2="261.5" stroke="#79b84e" stroke-width="1.0"/>
<line x1="109.5" y1="296.9" x2="109.5" y2="333.2" stroke="#79b84e" stroke-width="1.0"/>
<rect x="94.2" y="261.5" width="30.599999999999994" height="35.39999999999998" fill="none" stroke="#79b84e" stroke-width="1.0"/>
<line x1="94.2" y1="285.3" x2="124.8" y2="285.3" stroke="#79b84e" stroke-width="1.6"/>
<g fill="#79b84e" fill-opacity="0.75"><circle cx="111" cy="242.7" r="1.75"/><circle cx="103.5" cy="249.7" r="1.75"/><circle cx="105.3" cy="252.8" r="1.75"/><circle cx="108.2" cy="254.9" r="1.75"/><circle cx="113.5" cy="255.1" r="1.75"/><circle cx="114.4" cy="254.6" r="1.75"/><circle cx="105.3" cy="259.4" r="1.75"/><circle cx="106.4" cy="260.9" r="1.75"/><circle cx="109.1" cy="264" r="1.75"/><circle cx="108.2" cy="266.3" r="1.75"/><circle cx="114.4" cy="266.5" r="1.75"/><circle cx="106.4" cy="274.9" r="1.75"/><circle cx="107.3" cy="278.3" r="1.75"/><circle cx="107.1" cy="282.6" r="1.75"/><circle cx="111" cy="283.9" r="1.75"/><circle cx="105" cy="287.1" r="1.75"/><circle cx="109.5" cy="287.5" r="1.75"/><circle cx="105.5" cy="291.1" r="1.75"/><circle cx="108.2" cy="291.4" r="1.75"/><circle cx="103.7" cy="295.9" r="1.75"/><circle cx="111.3" cy="297.8" r="1.75"/><circle cx="113.5" cy="297.8" r="1.75"/><circle cx="108.6" cy="303.2" r="1.75"/><circle cx="110.9" cy="307.6" r="1.75"/><circle cx="109.2" cy="313" r="1.75"/><circle cx="114.9" cy="314.4" r="1.75"/><circle cx="107.4" cy="333.4" r="1.75"/></g>
<line x1="150.9" y1="308.3" x2="150.9" y2="325.6" stroke="#efa530" stroke-width="1.0"/>
<line x1="150.9" y1="339.1" x2="150.9" y2="348.3" stroke="#efa530" stroke-width="1.0"/>
<rect x="135.1" y="325.6" width="30.5" height="13.5" fill="none" stroke="#efa530" stroke-width="1.0"/>
<line x1="135.1" y1="334.8" x2="165.6" y2="334.8" stroke="#efa530" stroke-width="1.6"/>
<g fill="#f0a836" fill-opacity="0.75"><circle cx="154.9" cy="299" r="1.75"/><circle cx="148.9" cy="308.5" r="1.75"/><circle cx="150" cy="309.4" r="1.75"/><circle cx="148.2" cy="314.3" r="1.75"/><circle cx="153.4" cy="318.3" r="1.75"/><circle cx="155.5" cy="320" r="1.75"/><circle cx="149.5" cy="319.7" r="1.75"/><circle cx="150.4" cy="322.4" r="1.75"/><circle cx="146.8" cy="323.3" r="1.75"/><circle cx="145.5" cy="325.5" r="1.75"/><circle cx="144.6" cy="326.9" r="1.75"/><circle cx="148.6" cy="329.1" r="1.75"/><circle cx="144.6" cy="326.5" r="1.75"/><circle cx="148.2" cy="329.2" r="1.75"/><circle cx="145.5" cy="331.4" r="1.75"/><circle cx="147.3" cy="332.8" r="1.75"/><circle cx="145.5" cy="334.6" r="1.75"/><circle cx="149.5" cy="335" r="1.75"/><circle cx="155.3" cy="334.1" r="1.75"/><circle cx="152.2" cy="335.9" r="1.75"/><circle cx="144.6" cy="337.7" r="1.75"/><circle cx="147.7" cy="337.7" r="1.75"/><circle cx="150.4" cy="338.2" r="1.75"/><circle cx="146.4" cy="340.4" r="1.75"/><circle cx="149.1" cy="340.4" r="1.75"/><circle cx="155.8" cy="342.2" r="1.75"/><circle cx="146.8" cy="344.4" r="1.75"/><circle cx="154" cy="346.7" r="1.75"/><circle cx="145.9" cy="348" r="1.75"/><circle cx="149.5" cy="348.5" r="1.75"/><circle cx="155.8" cy="365.7" r="1.75"/></g>
<line x1="190.8" y1="298.8" x2="190.8" y2="315.9" stroke="#dd3141" stroke-width="1.0"/>
<line x1="190.8" y1="334.4" x2="190.8" y2="352.0" stroke="#dd3141" stroke-width="1.0"/>
<rect x="175.5" y="315.9" width="31.19999999999999" height="18.5" fill="none" stroke="#dd3141" stroke-width="1.0"/>
<line x1="175.5" y1="327.6" x2="206.7" y2="327.6" stroke="#dd3141" stroke-width="1.6"/>
<g fill="#dc2d3e" fill-opacity="0.75"><circle cx="190.9" cy="298.8" r="1.75"/><circle cx="196.4" cy="304.8" r="1.75"/><circle cx="195.7" cy="307" r="1.75"/><circle cx="190.4" cy="307.8" r="1.75"/><circle cx="187.5" cy="309.7" r="1.75"/><circle cx="190.4" cy="310.4" r="1.75"/><circle cx="196.9" cy="310.1" r="1.75"/><circle cx="190.4" cy="312.4" r="1.75"/><circle cx="195.4" cy="312.4" r="1.75"/><circle cx="196.4" cy="314.4" r="1.75"/><circle cx="190.4" cy="315.4" r="1.75"/><circle cx="195.9" cy="316.4" r="1.75"/><circle cx="196.4" cy="317.9" r="1.75"/><circle cx="185.5" cy="319.4" r="1.75"/><circle cx="189" cy="321.4" r="1.75"/><circle cx="190.4" cy="321.7" r="1.75"/><circle cx="195.4" cy="321.9" r="1.75"/><circle cx="195.9" cy="323.4" r="1.75"/><circle cx="185" cy="327.4" r="1.75"/><circle cx="188" cy="327.4" r="1.75"/><circle cx="192" cy="327.4" r="1.75"/><circle cx="187" cy="329.9" r="1.75"/><circle cx="193" cy="330.4" r="1.75"/><circle cx="196.4" cy="330.5" r="1.75"/><circle cx="187" cy="332" r="1.75"/><circle cx="192.4" cy="333" r="1.75"/><circle cx="185.5" cy="336.5" r="1.75"/><circle cx="191" cy="336" r="1.75"/><circle cx="190" cy="342" r="1.75"/><circle cx="193" cy="342.4" r="1.75"/><circle cx="186" cy="346.4" r="1.75"/><circle cx="189.4" cy="345.9" r="1.75"/><circle cx="185.5" cy="352.9" r="1.75"/><circle cx="188.4" cy="353.1" r="1.75"/></g>
<text x="78.4" y="236" font-size="11" font-family="Liberation Sans, sans-serif" fill="#111">a</text>
<text x="118.6" y="253.4" font-size="11" font-family="Liberation Sans, sans-serif" fill="#111">b</text>
<text x="161.2" y="300.7" font-size="11" font-family="Liberation Sans, sans-serif" fill="#111">c</text>
<text x="201.9" y="299.9" font-size="11" font-family="Liberation Sans, sans-serif" fill="#111">c</text>
<text x="382.4" y="218" font-size="12" font-weight="bold" font-family="Liberation Sans, sans-serif" fill="#000">d</text>
<rect x="425.9" y="222.4" width="93.70000000000005" height="151.1" fill="none" stroke="#7c7c7c" stroke-width="1.0"/>
<line x1="423.79999999999995" y1="229.3" x2="425.9" y2="229.3" stroke="#444" stroke-width="0.9"/>
<text transform="translate(420.5,232.70000000000002) scale(1.07,1)" text-anchor="end" font-size="10" font-family="Liberation Sans, sans-serif" fill="#1a1a1a">90</text>
<line x1="423.79999999999995" y1="263.6" x2="425.9" y2="263.6" stroke="#444" stroke-width="0.9"/>
<text transform="translate(420.5,267.0) scale(1.07,1)" text-anchor="end" font-size="10" font-family="Liberation Sans, sans-serif" fill="#1a1a1a">45</text>
<line x1="423.79999999999995" y1="298.0" x2="425.9" y2="298.0" stroke="#444" stroke-width="0.9"/>
<text transform="translate(420.5,301.4) scale(1.07,1)" text-anchor="end" font-size="10" font-family="Liberation Sans, sans-serif" fill="#1a1a1a">0</text>
<line x1="423.79999999999995" y1="332.3" x2="425.9" y2="332.3" stroke="#444" stroke-width="0.9"/>
<text transform="translate(420.5,335.7) scale(1.07,1)" text-anchor="end" font-size="10" font-family="Liberation Sans, sans-serif" fill="#1a1a1a">−45</text>
<line x1="423.79999999999995" y1="366.6" x2="425.9" y2="366.6" stroke="#444" stroke-width="0.9"/>
<text transform="translate(420.5,370.0) scale(1.07,1)" text-anchor="end" font-size="10" font-family="Liberation Sans, sans-serif" fill="#1a1a1a">−90</text>
<text transform="translate(398.7,290.4) rotate(-90)" text-anchor="middle" font-size="10.8" font-family="Liberation Sans, sans-serif" fill="#1a1a1a">Flower angle (°)</text>
<line x1="451.6" y1="373.5" x2="451.6" y2="375.9" stroke="#555" stroke-width="0.8"/>
<line x1="494.2" y1="373.5" x2="494.2" y2="375.9" stroke="#555" stroke-width="0.8"/>
<text x="451.7" y="386.2" text-anchor="middle" font-size="10" font-family="Liberation Sans, sans-serif" fill="#111">10</text>
<text x="494.4" y="386.2" text-anchor="middle" font-size="10" font-family="Liberation Sans, sans-serif" fill="#111">20</text>
<text x="476.8" y="398.8" text-anchor="middle" font-size="10.9" font-family="Liberation Sans, sans-serif" fill="#111">Temperature (°C)</text>
<line x1="451.4" y1="295.6" x2="451.4" y2="302.5" stroke="#8e8e8e" stroke-width="1.0"/>
<line x1="451.4" y1="317.4" x2="451.4" y2="337.2" stroke="#8e8e8e" stroke-width="1.0"/>
<rect x="435.2" y="302.5" width="32.400000000000034" height="14.899999999999977" fill="none" stroke="#8e8e8e" stroke-width="1.0"/>
<line x1="435.2" y1="311.4" x2="467.6" y2="311.4" stroke="#8e8e8e" stroke-width="1.5"/>
<g fill="#9c9c9c" fill-opacity="0.8"><circle cx="447" cy="296" r="1.75"/><circle cx="457.5" cy="295.6" r="1.75"/><circle cx="457.5" cy="298.7" r="1.75"/><circle cx="445.1" cy="299.3" r="1.75"/><circle cx="450.1" cy="299.3" r="1.75"/><circle cx="445.7" cy="302.5" r="1.75"/><circle cx="448.8" cy="303.7" r="1.75"/><circle cx="455.1" cy="304.3" r="1.75"/><circle cx="454.4" cy="308.7" r="1.75"/><circle cx="446.3" cy="309.9" r="1.75"/><circle cx="450.7" cy="311.8" r="1.75"/><circle cx="448.2" cy="313.7" r="1.75"/><circle cx="447" cy="314.9" r="1.75"/><circle cx="450.7" cy="315.5" r="1.75"/><circle cx="455.1" cy="317.4" r="1.75"/><circle cx="448.2" cy="323" r="1.75"/><circle cx="448.2" cy="325.5" r="1.75"/><circle cx="455.7" cy="326.4" r="1.75"/><circle cx="453.8" cy="333" r="1.75"/><circle cx="446.7" cy="334.2" r="1.75"/><circle cx="457.5" cy="337.1" r="1.75"/></g>
<line x1="494.1" y1="236.5" x2="494.1" y2="264.3" stroke="#1e1e1e" stroke-width="1.0"/>
<line x1="494.1" y1="285.1" x2="494.1" y2="306.8" stroke="#1e1e1e" stroke-width="1.0"/>
<rect x="477.8" y="264.3" width="32.0" height="20.80000000000001" fill="none" stroke="#1e1e1e" stroke-width="1.0"/>
<line x1="477.8" y1="277.7" x2="509.8" y2="277.7" stroke="#1e1e1e" stroke-width="2.2"/>
<g fill="#4a4a4a" fill-opacity="0.75"><circle cx="494.4" cy="236.5" r="1.75"/><circle cx="492.4" cy="252.7" r="1.75"/><circle cx="495.4" cy="252.1" r="1.75"/><circle cx="498.4" cy="253.7" r="1.75"/><circle cx="499.4" cy="259.9" r="1.75"/><circle cx="493.4" cy="262.9" r="1.75"/><circle cx="496.9" cy="264.4" r="1.75"/><circle cx="497.4" cy="266.9" r="1.75"/><circle cx="492" cy="267.9" r="1.75"/><circle cx="492.1" cy="268" r="1.75"/><circle cx="497" cy="266.4" r="1.75"/><circle cx="489" cy="275.7" r="1.75"/><circle cx="498.3" cy="276" r="1.75"/><circle cx="491.4" cy="280.7" r="1.75"/><circle cx="494" cy="282" r="1.75"/><circle cx="497" cy="284.4" r="1.75"/><circle cx="490.2" cy="286.9" r="1.75"/><circle cx="496.4" cy="291.9" r="1.75"/><circle cx="492.1" cy="294.6" r="1.75"/><circle cx="497.7" cy="301.3" r="1.75"/><circle cx="494.6" cy="306.2" r="1.75"/></g>
<line x1="459.2" y1="244.8" x2="485.8" y2="244.8" stroke="#555" stroke-width="1.1"/>
<text x="472.6" y="246.0" text-anchor="middle" font-size="10" font-weight="bold" font-family="Liberation Sans, sans-serif" fill="#111">***</text>
<text x="550.8" y="217.8" font-size="12" font-weight="bold" font-family="Liberation Sans, sans-serif" fill="#000">e</text>
<rect x="591.8" y="222.4" width="92.60000000000002" height="151.1" fill="none" stroke="#7c7c7c" stroke-width="1.0"/>
<line x1="589.5" y1="229.3" x2="591.8" y2="229.3" stroke="#444" stroke-width="0.9"/>
<text transform="translate(586.6,232.70000000000002) scale(1.07,1)" text-anchor="end" font-size="10" font-family="Liberation Sans, sans-serif" fill="#1a1a1a">90</text>
<line x1="589.5" y1="263.6" x2="591.8" y2="263.6" stroke="#444" stroke-width="0.9"/>
<text transform="translate(586.6,267.0) scale(1.07,1)" text-anchor="end" font-size="10" font-family="Liberation Sans, sans-serif" fill="#1a1a1a">45</text>
<line x1="589.5" y1="298.0" x2="591.8" y2="298.0" stroke="#444" stroke-width="0.9"/>
<text transform="translate(586.6,301.4) scale(1.07,1)" text-anchor="end" font-size="10" font-family="Liberation Sans, sans-serif" fill="#1a1a1a">0</text>
<line x1="589.5" y1="332.3" x2="591.8" y2="332.3" stroke="#444" stroke-width="0.9"/>
<text transform="translate(586.6,335.7) scale(1.07,1)" text-anchor="end" font-size="10" font-family="Liberation Sans, sans-serif" fill="#1a1a1a">−45</text>
<line x1="589.5" y1="366.6" x2="591.8" y2="366.6" stroke="#444" stroke-width="0.9"/>
<text transform="translate(586.6,370.0) scale(1.07,1)" text-anchor="end" font-size="10" font-family="Liberation Sans, sans-serif" fill="#1a1a1a">−90</text>
<text transform="translate(564.7,289.9) rotate(-90)" text-anchor="middle" font-size="10.8" font-family="Liberation Sans, sans-serif" fill="#1a1a1a">Flower angle (°)</text>
<line x1="617.3" y1="373.5" x2="617.3" y2="375.9" stroke="#555" stroke-width="0.8"/>
<line x1="659.6" y1="373.5" x2="659.6" y2="375.9" stroke="#555" stroke-width="0.8"/>
<text x="615.2" y="386.2" text-anchor="middle" font-size="10" font-family="Liberation Sans, sans-serif" fill="#111">Control</text>
<text x="659.8" y="386.2" text-anchor="middle" font-size="10" font-family="Liberation Sans, sans-serif" fill="#111">High</text>
<text x="642.1" y="399.3" text-anchor="middle" font-size="10.8" font-family="Liberation Sans, sans-serif" fill="#111">Humidity</text>
<line x1="617.3" y1="241.3" x2="617.3" y2="262.5" stroke="#8e8e8e" stroke-width="1.0"/>
<line x1="617.3" y1="281.2" x2="617.3" y2="296.5" stroke="#8e8e8e" stroke-width="1.0"/>
<rect x="601.2" y="262.5" width="32.09999999999991" height="18.69999999999999" fill="none" stroke="#8e8e8e" stroke-width="1.0"/>
<line x1="601.2" y1="268.4" x2="633.3" y2="268.4" stroke="#8e8e8e" stroke-width="1.5"/>
<g fill="#9c9c9c" fill-opacity="0.8"><circle cx="619" cy="241.2" r="1.75"/><circle cx="611.8" cy="243.9" r="1.75"/><circle cx="611" cy="249.9" r="1.75"/><circle cx="622.3" cy="253.6" r="1.75"/><circle cx="619.9" cy="257.7" r="1.75"/><circle cx="617.4" cy="259.3" r="1.75"/><circle cx="611.8" cy="264.1" r="1.75"/><circle cx="614.2" cy="265" r="1.75"/><circle cx="623.1" cy="264.1" r="1.75"/><circle cx="611" cy="268.2" r="1.75"/><circle cx="615.8" cy="269.8" r="1.75"/><circle cx="615" cy="273.9" r="1.75"/><circle cx="617.4" cy="277.1" r="1.75"/><circle cx="623.9" cy="280" r="1.75"/><circle cx="616.6" cy="283.6" r="1.75"/><circle cx="615.8" cy="286.5" r="1.75"/><circle cx="622.3" cy="288.4" r="1.75"/><circle cx="623.1" cy="290.1" r="1.75"/><circle cx="615" cy="296.2" r="1.75"/></g>
<line x1="659.6" y1="231.8" x2="659.6" y2="246.3" stroke="#1e1e1e" stroke-width="1.0"/>
<line x1="659.6" y1="279.0" x2="659.6" y2="308.6" stroke="#1e1e1e" stroke-width="1.0"/>
<rect x="643.4" y="246.3" width="32.10000000000002" height="32.69999999999999" fill="none" stroke="#1e1e1e" stroke-width="1.0"/>
<line x1="643.4" y1="263.3" x2="675.5" y2="263.3" stroke="#1e1e1e" stroke-width="2.2"/>
<g fill="#4a4a4a" fill-opacity="0.75"><circle cx="661.7" cy="231.5" r="1.75"/><circle cx="653" cy="240.2" r="1.75"/><circle cx="658.5" cy="237.6" r="1.75"/><circle cx="664.3" cy="238.5" r="1.75"/><circle cx="665.7" cy="239.8" r="1.75"/><circle cx="663.9" cy="246.3" r="1.75"/><circle cx="654.8" cy="247.8" r="1.75"/><circle cx="654.1" cy="252.8" r="1.75"/><circle cx="661.3" cy="250.7" r="1.75"/><circle cx="657.8" cy="258.7" r="1.75"/><circle cx="655.2" cy="262" r="1.75"/><circle cx="663.9" cy="262" r="1.75"/><circle cx="661.7" cy="265.2" r="1.75"/><circle cx="665" cy="266.3" r="1.75"/><circle cx="664.3" cy="268.5" r="1.75"/><circle cx="666.1" cy="273.9" r="1.75"/><circle cx="661.3" cy="277.2" r="1.75"/><circle cx="656.3" cy="281.1" r="1.75"/><circle cx="655.2" cy="284.1" r="1.75"/><circle cx="660.7" cy="289.1" r="1.75"/><circle cx="663.5" cy="290.2" r="1.75"/><circle cx="660.7" cy="293.5" r="1.75"/><circle cx="657" cy="308.3" r="1.75"/></g>
</svg>
</body></html>
